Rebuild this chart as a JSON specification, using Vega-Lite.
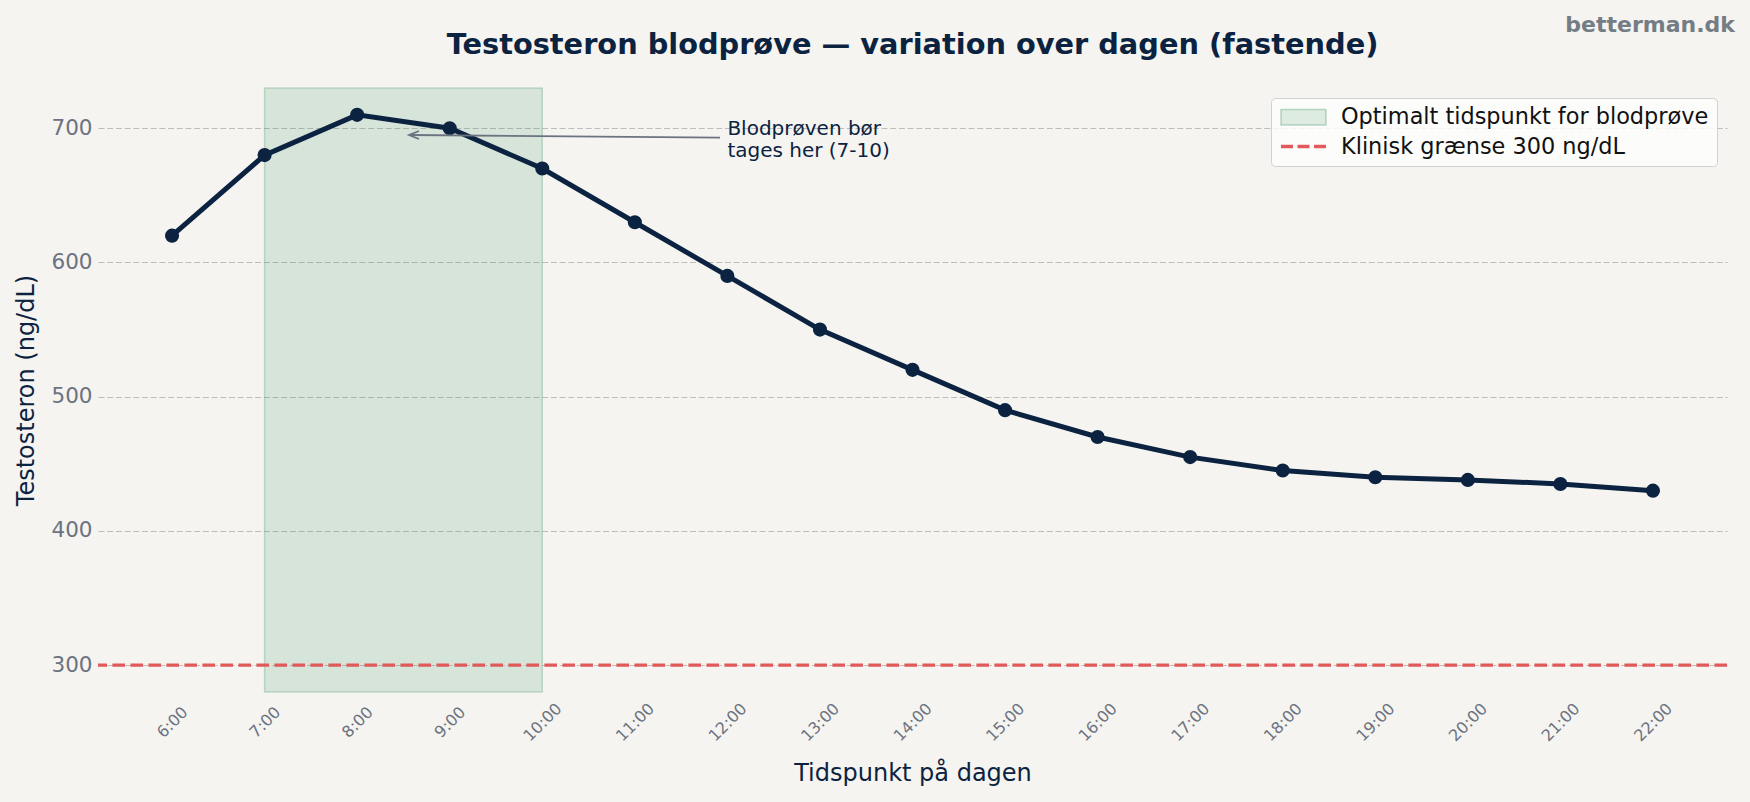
{
  "$schema": "https://vega.github.io/schema/vega-lite/v6.json",
  "width": 1629,
  "height": 604,
  "autosize": {"type": "none"},
  "padding": {"left": 98, "top": 88, "right": 23, "bottom": 110},
  "background": "#f5f4f0",
  "config": {
    "view": {"stroke": null},
    "font": "DejaVu Sans",
    "legend": {
      "orient": "top-right",
      "offset": 10,
      "padding": 8,
      "fillColor": "rgba(253,253,252,0.85)",
      "strokeColor": "#d0d0d0",
      "cornerRadius": 4,
      "labelFontSize": 22.4,
      "labelColor": "#111111",
      "labelFont": "DejaVu Sans",
      "labelLimit": 0,
      "symbolSize": 400,
      "symbolOpacity": 1,
      "labelOffset": 38,
      "rowPadding": 5.5
    }
  },
  "title": {
    "text": "Testosteron blodprøve — variation over dagen (fastende)",
    "fontSize": 28.8,
    "fontWeight": "bold",
    "color": "#0b2340",
    "font": "DejaVu Sans",
    "anchor": "middle",
    "frame": "group",
    "baseline": "middle",
    "offset": -60
  },
  "datasets": {
    "series": [
      {"hour": 6, "value": 620},
      {"hour": 7, "value": 680},
      {"hour": 8, "value": 710},
      {"hour": 9, "value": 700},
      {"hour": 10, "value": 670},
      {"hour": 11, "value": 630},
      {"hour": 12, "value": 590},
      {"hour": 13, "value": 550},
      {"hour": 14, "value": 520},
      {"hour": 15, "value": 490},
      {"hour": 16, "value": 470},
      {"hour": 17, "value": 455},
      {"hour": 18, "value": 445},
      {"hour": 19, "value": 440},
      {"hour": 20, "value": 438},
      {"hour": 21, "value": 435},
      {"hour": 22, "value": 430}
    ],
    "legendItems": [
      {"series": "Optimalt tidspunkt for blodprøve"},
      {"series": "Klinisk grænse 300 ng/dL"}
    ]
  },
  "layer": [
    {
      "data": {"values": [{"x": 7, "x2": 10, "y": 280, "y2": 730}]},
      "mark": {"type": "rect", "fill": "#2e8b57", "fillOpacity": 0.15, "stroke": "#2e8b57", "strokeOpacity": 0.25, "strokeWidth": 1.5},
      "encoding": {
        "x": {
          "field": "x", "type": "quantitative",
          "scale": {"domain": [5.2, 22.8], "nice": false, "zero": false},
          "axis": {
            "values": [6, 7, 8, 9, 10, 11, 12, 13, 14, 15, 16, 17, 18, 19, 20, 21, 22],
            "labelExpr": "datum.value + ':00'",
            "labelAngle": -45,
            "labelAlign": "center",
            "labelBaseline": "middle",
            "labelPadding": 30,
            "labelFontSize": 16,
            "labelColor": "#6b7280",
            "labelFont": "DejaVu Sans",
            "ticks": false,
            "tickSize": 0,
            "domain": false,
            "grid": false,
            "labelOverlap": false,
            "title": "Tidspunkt på dagen",
            "titleFontSize": 24,
            "titleFontWeight": "normal",
            "titleColor": "#0b2340",
            "titleFont": "DejaVu Sans",
            "titlePadding": 18
          }
        },
        "x2": {"field": "x2"},
        "y": {
          "field": "y", "type": "quantitative",
          "scale": {"domain": [280, 730], "nice": false, "zero": false},
          "axis": {
            "values": [300, 400, 500, 600, 700],
            "labelFontSize": 21.5,
            "labelColor": "#6b7280",
            "labelFont": "DejaVu Sans",
            "labelPadding": 6,
            "ticks": false,
            "tickSize": 0,
            "domain": false,
            "grid": true,
            "gridColor": "#bdbdbd",
            "gridDash": [6, 2.7],
            "gridWidth": 1.2,
            "title": "Testosteron (ng/dL)",
            "titleFontSize": 24,
            "titleFontWeight": "normal",
            "titleColor": "#0b2340",
            "titleFont": "DejaVu Sans",
            "titlePadding": 12
          }
        },
        "y2": {"field": "y2"}
      }
    },
    {
      "data": {"values": [{"y": 300}]},
      "mark": {"type": "rule", "color": "#e05a5a", "strokeWidth": 3.3, "strokeDash": [12.6, 5.4]},
      "encoding": {
        "y": {"field": "y", "type": "quantitative"}
      }
    },
    {
      "data": {"name": "series"},
      "mark": {"type": "line", "color": "#0b2340", "strokeWidth": 5, "point": {"filled": true, "size": 200, "color": "#0b2340", "opacity": 1}},
      "encoding": {
        "x": {"field": "hour", "type": "quantitative"},
        "y": {"field": "value", "type": "quantitative"}
      }
    },
    {
      "data": {"values": [{"x": 8.56, "y": 695, "x2": 11.92, "y2": 693}]},
      "mark": {"type": "rule", "color": "#6b7280", "strokeWidth": 1.8},
      "encoding": {
        "x": {"field": "x", "type": "quantitative"},
        "y": {"field": "y", "type": "quantitative"},
        "x2": {"field": "x2"},
        "y2": {"field": "y2"}
      }
    },
    {
      "data": {"values": [{"x": 8.56, "y": 695}]},
      "mark": {"type": "point", "shape": "M1,-0.4L0,0L1,0.4", "size": 400, "filled": false, "stroke": "#6b7280", "strokeWidth": 1.8, "opacity": 1},
      "encoding": {
        "x": {"field": "x", "type": "quantitative"},
        "y": {"field": "y", "type": "quantitative"}
      }
    },
    {
      "data": {"values": [{"x": 12, "y": 693, "label": ["Blodprøven bør", "tages her (7-10)"]}]},
      "mark": {"type": "text", "align": "left", "baseline": "middle", "dy": -9, "fontSize": 20, "lineHeight": 22, "color": "#0b2340", "font": "DejaVu Sans"},
      "encoding": {
        "x": {"field": "x", "type": "quantitative"},
        "y": {"field": "y", "type": "quantitative"},
        "text": {"field": "label"}
      }
    },
    {
      "data": {"values": [{"x": 22.8, "y": 730, "label": "betterman.dk"}]},
      "mark": {"type": "text", "align": "right", "baseline": "middle", "dx": 8, "dy": -63, "fontSize": 22, "fontWeight": "bold", "color": "#747c85", "font": "DejaVu Sans"},
      "encoding": {
        "x": {"field": "x", "type": "quantitative"},
        "y": {"field": "y", "type": "quantitative"},
        "text": {"field": "label"}
      }
    },
    {
      "data": {"name": "legendItems"},
      "mark": {"type": "point", "opacity": 0},
      "encoding": {
        "x": {"datum": 7},
        "y": {"datum": 300},
        "fill": {
          "field": "series", "type": "nominal",
          "scale": {"domain": ["Optimalt tidspunkt for blodprøve", "Klinisk grænse 300 ng/dL"], "range": ["rgba(46,139,87,0.15)", "rgba(0,0,0,0)"]},
          "legend": {"title": null}
        },
        "stroke": {
          "field": "series", "type": "nominal",
          "scale": {"domain": ["Optimalt tidspunkt for blodprøve", "Klinisk grænse 300 ng/dL"], "range": ["rgba(46,139,87,0.3)", "#e05a5a"]},
          "legend": {"title": null}
        },
        "shape": {
          "field": "series", "type": "nominal",
          "scale": {"domain": ["Optimalt tidspunkt for blodprøve", "Klinisk grænse 300 ng/dL"], "range": ["M-1,-0.78H3.5V0.78H-1Z", "M-1,0H3.5"]},
          "legend": {"title": null}
        },
        "strokeDash": {
          "field": "series", "type": "nominal",
          "scale": {"domain": ["Optimalt tidspunkt for blodprøve", "Klinisk grænse 300 ng/dL"], "range": [[1, 0], [12, 4.5]]},
          "legend": {"title": null}
        },
        "strokeWidth": {
          "field": "series", "type": "ordinal",
          "scale": {"domain": ["Optimalt tidspunkt for blodprøve", "Klinisk grænse 300 ng/dL"], "range": [1.5, 3.5]},
          "legend": {"title": null}
        }
      }
    }
  ]
}
